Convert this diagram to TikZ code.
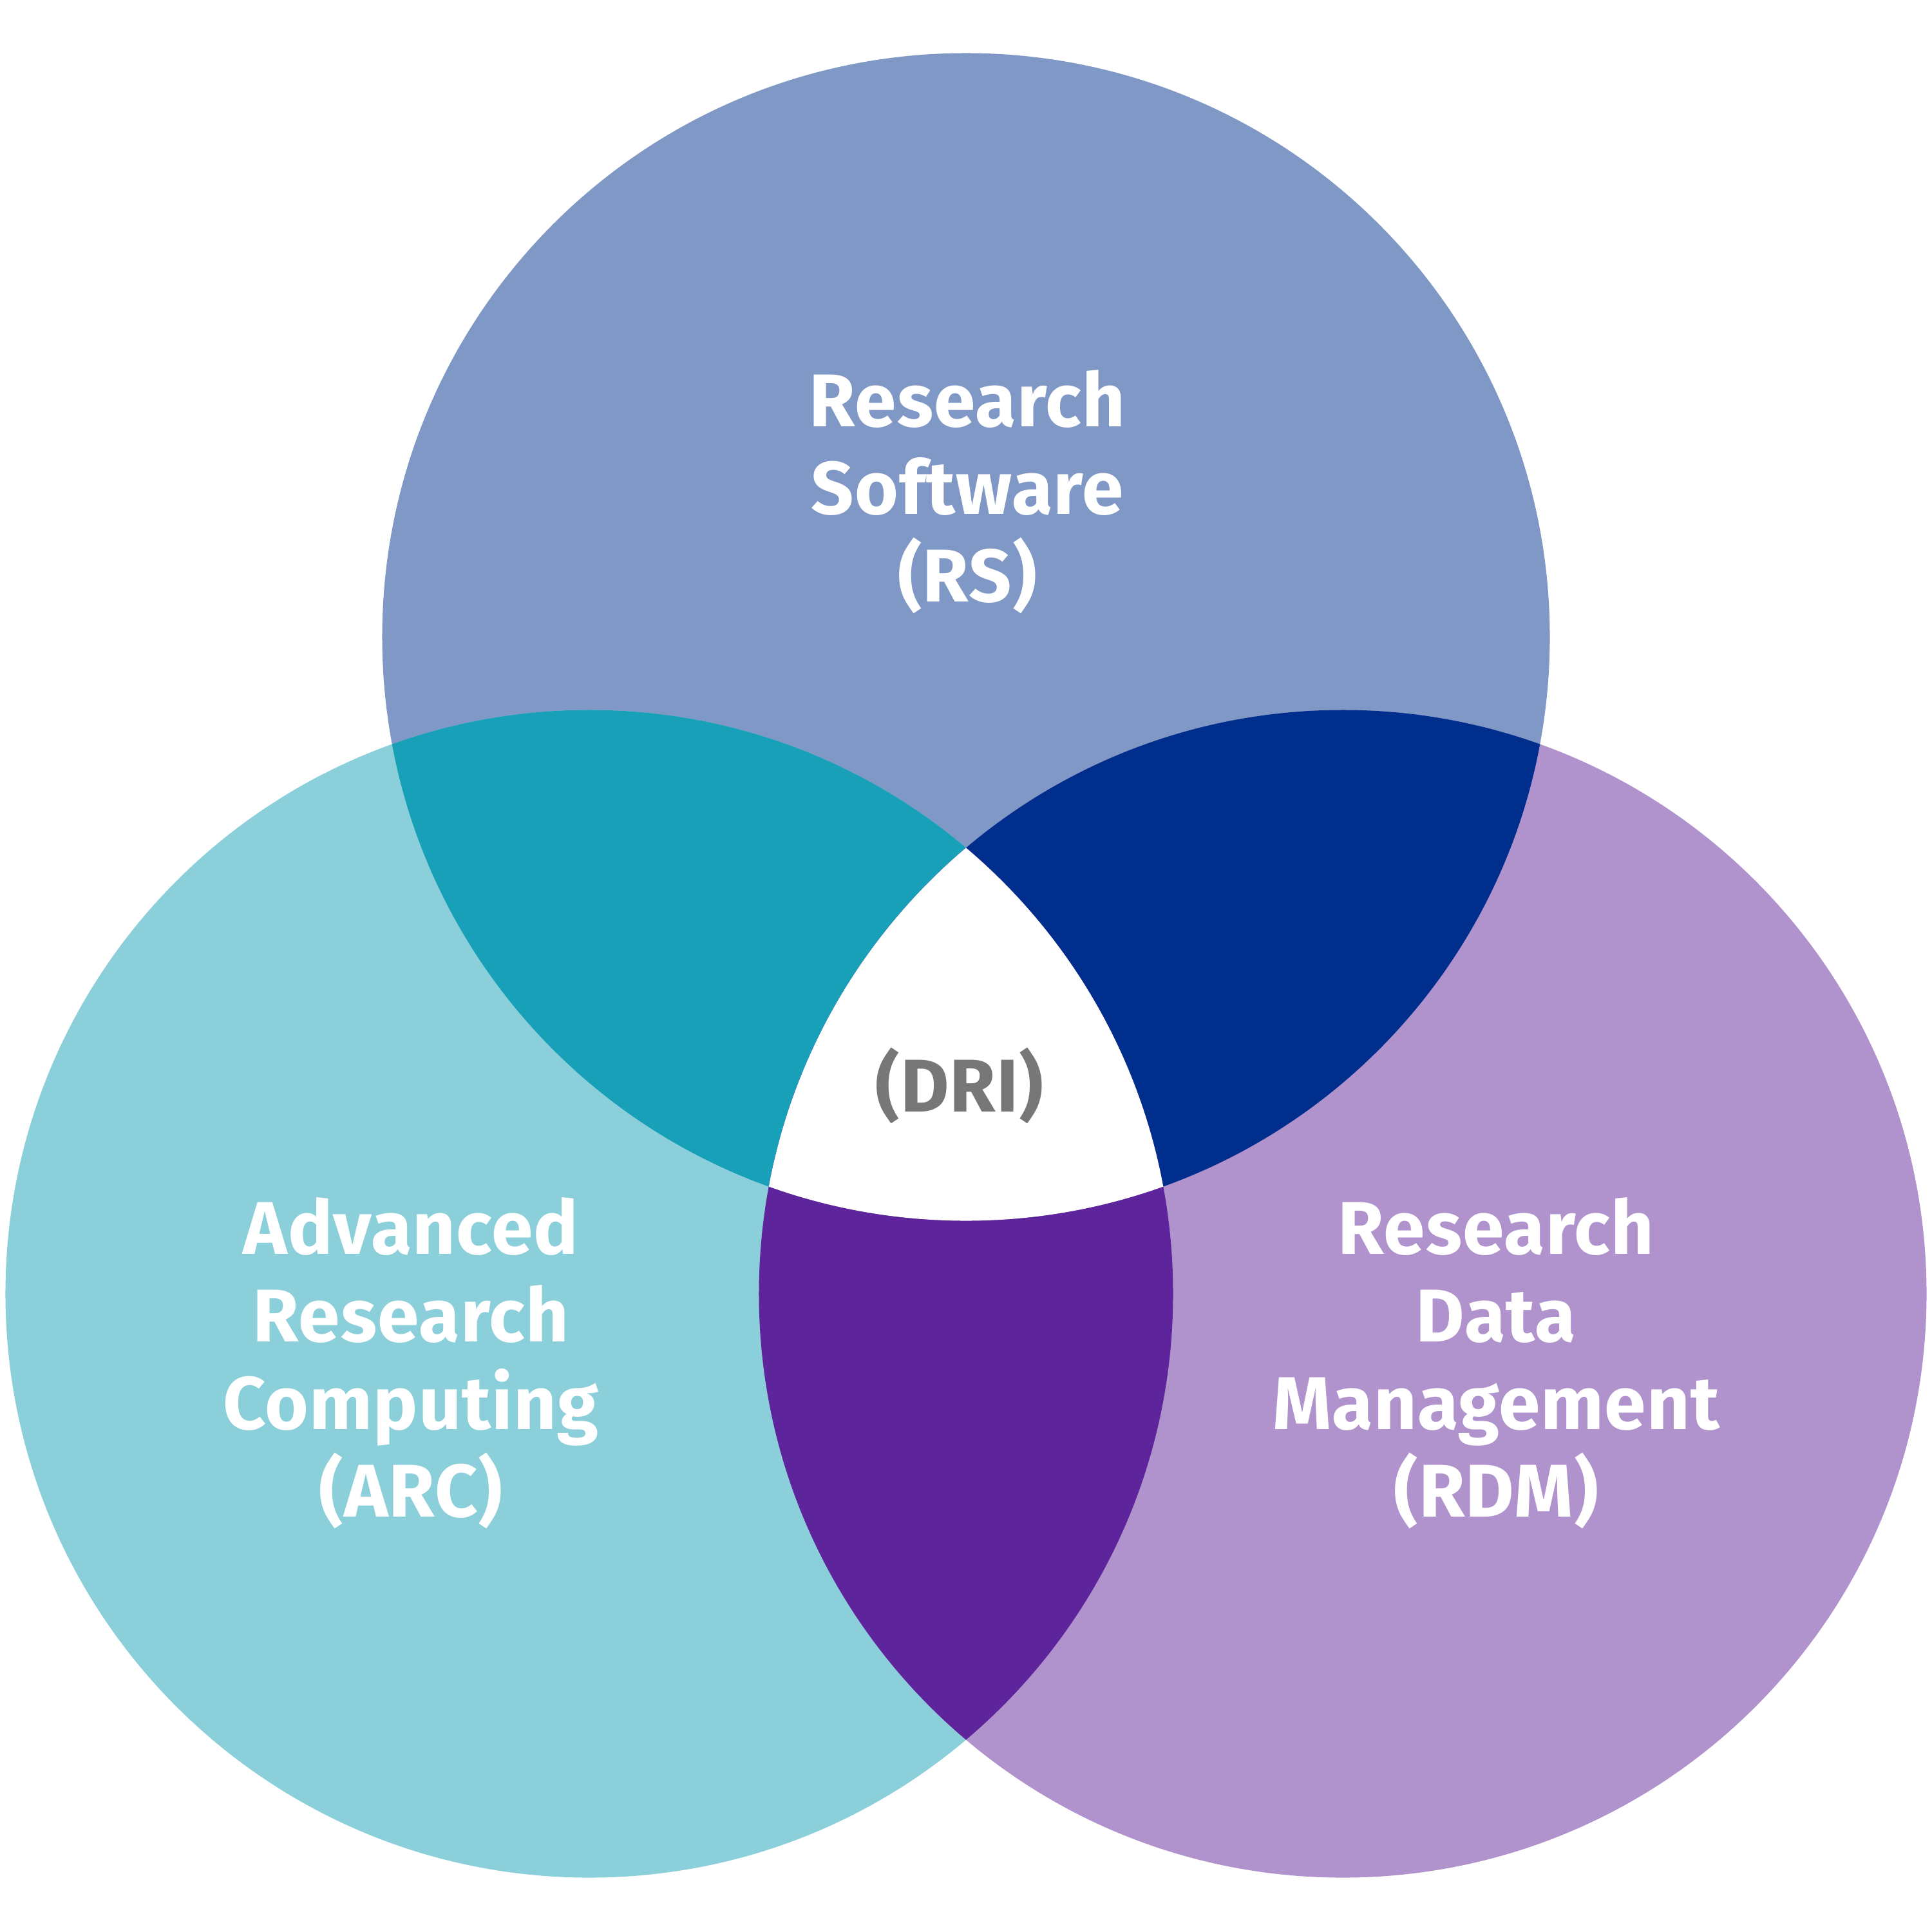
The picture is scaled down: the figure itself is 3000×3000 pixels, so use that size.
\documentclass[tikz,border=0pt]{standalone}
\usepackage{fontspec}
\newfontfamily\labfont{Fira Sans}[LetterSpace=1.0]
\definecolor{rsblue}{HTML}{7F98C6}
\definecolor{arcteal}{HTML}{8BCFDA}
\definecolor{rdmlilac}{HTML}{B093CC}
\definecolor{rsarc}{HTML}{17A0B8}
\definecolor{rsrdm}{HTML}{002E8C}
\definecolor{arcrdm}{HTML}{5E249C}
\definecolor{drigrey}{HTML}{777777}
\begin{document}
\begin{tikzpicture}[x=0.01cm,y=-0.01cm,
  lab/.style={font=\labfont\bfseries\fontsize{33}{38.6}\selectfont, text=white, align=center, anchor=base, inner sep=0pt}]
\useasboundingbox (0,0) rectangle (3000,3000);
\def\cT{(1500,989) circle [radius=9.06cm]}
\def\cL{(915,2009) circle [radius=9.06cm]}
\def\cR{(2085,2009) circle [radius=9.06cm]}
\fill[rsblue] \cT;
\fill[arcteal] \cL;
\fill[rdmlilac] \cR;
\begin{scope}\clip \cT; \fill[rsarc] \cL; \fill[rsrdm] \cR; \end{scope}
\begin{scope}\clip \cL; \fill[arcrdm] \cR; \end{scope}
\begin{scope}\clip \cT; \clip \cL; \fill[white] \cR; \end{scope}
\node[lab] (rs) at (1502,934) {Research\\Software\\(RS)};
\node[lab] (arc) at (638,2355) {Advanced\\Research\\Computing\\(ARC)};
\node[lab] (rdm) at (2323,2355) {Research\\Data\\Management\\(RDM)};
\node[lab, text=drigrey] (dri) at (1490,1726) {(DRI)};
\end{tikzpicture}
\end{document}
